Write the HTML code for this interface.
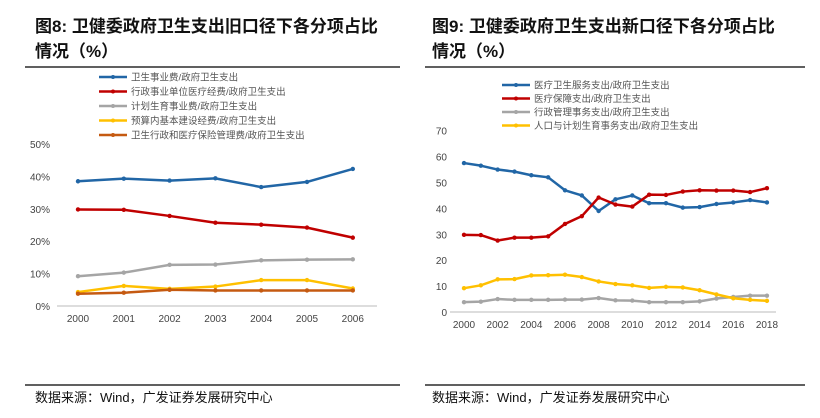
<!DOCTYPE html>
<html><head><meta charset="utf-8"><style>
body{margin:0;background:#fff;width:820px;height:413px;overflow:hidden;font-family:"Liberation Sans","Noto Sans CJK SC",sans-serif}
</style></head><body>
<svg id="s" width="820" height="413" xmlns="http://www.w3.org/2000/svg">
<g font-family="'Liberation Sans','Noto Sans CJK SC',sans-serif" font-weight="bold" font-size="17" fill="#111">
<text x="35" y="32">图8: 卫健委政府卫生支出旧口径下各分项占比</text>
<text x="35" y="57">情况（%）</text>
<text x="432" y="32">图9: 卫健委政府卫生支出新口径下各分项占比</text>
<text x="432" y="57">情况（%）</text>
</g>
<line x1="25" y1="67" x2="400" y2="67" stroke="#000" stroke-width="1.2"/>
<line x1="425" y1="67" x2="805" y2="67" stroke="#000" stroke-width="1.2"/>
<line x1="25" y1="385" x2="400" y2="385" stroke="#000" stroke-width="1.2"/>
<line x1="425" y1="385" x2="805" y2="385" stroke="#000" stroke-width="1.2"/>
<text x="35" y="402" font-size="13" fill="#111">数据来源：Wind，广发证券发展研究中心</text>
<text x="432" y="402" font-size="13" fill="#111">数据来源：Wind，广发证券发展研究中心</text>
<g id="L"></g><g id="R"></g>
</svg>
<script>
const leftYears=["2000","2001","2002","2003","2004","2005","2006"];
const leftTicks=[0,10,20,30,40,50];
const leftNames=["卫生事业费/政府卫生支出","行政事业单位医疗经费/政府卫生支出","计划生育事业费/政府卫生支出","预算内基本建设经费/政府卫生支出","卫生行政和医疗保险管理费/政府卫生支出"];
const leftBlue=[38.5,39.3,38.7,39.4,36.7,38.3,42.3];
const leftRed=[29.8,29.7,27.8,25.7,25.1,24.2,21.1];
const leftGray=[9.2,10.3,12.7,12.8,14.1,14.3,14.4];
const leftYellow=[4.3,6.2,5.3,6.0,8.0,8.0,5.4];
const leftOrange=[3.8,4.1,5.0,4.8,4.8,4.8,4.8];
const rightYears=["2000","2001","2002","2003","2004","2005","2006","2007","2008","2009","2010","2011","2012","2013","2014","2015","2016","2017","2018"];
const rightTicks=[0,10,20,30,40,50,60,70];
const rightNames=["医疗卫生服务支出/政府卫生支出","医疗保障支出/政府卫生支出","行政管理事务支出/政府卫生支出","人口与计划生育事务支出/政府卫生支出"];
const rightBlue=[57.5,56.5,55,54.2,52.8,52,47,45,39,43.5,45,42,42,40.3,40.5,41.7,42.3,43.2,42.3];
const rightRed=[29.8,29.7,27.6,28.7,28.7,29.2,34,37,44.2,41.5,40.7,45.3,45.2,46.5,47,46.9,46.9,46.3,47.8];
const rightGray=[3.8,4,5,4.7,4.7,4.7,4.8,4.8,5.4,4.5,4.4,3.8,3.8,3.8,4.1,5.2,5.8,6.3,6.3];
const rightYellow=[9.2,10.3,12.6,12.7,14.1,14.2,14.4,13.5,11.8,10.8,10.3,9.3,9.7,9.5,8.4,6.8,5.3,4.7,4.3];
const NS="http://www.w3.org/2000/svg";
function mk(p,t,a){const e=document.createElementNS(NS,t);for(const k in a)e.setAttribute(k,a[k]);p.appendChild(e);return e;}
function chart(g,cfg){
  const xs=i=>cfg.x0+i*cfg.dx, ys=v=>cfg.y0-(v-0)*cfg.py;
  const ax=mk(g,'line',{x1:cfg.ax1,x2:cfg.ax2,y1:cfg.y0,y2:cfg.y0,stroke:'#bbb','stroke-width':1});
  
  
  cfg.ticks.forEach(t=>{const e=mk(g,'text',{x:cfg.tx,y:ys(t)+4,'text-anchor':'end','font-size':10,fill:'#444'});e.textContent=t+cfg.suf;
    
    });
  cfg.years.forEach((y,i)=>{if(i%cfg.every)return;const e=mk(g,'text',{x:xs(i),y:cfg.y0+16,'text-anchor':'middle','font-size':10,fill:'#444'});e.textContent=y;
    
    });
  cfg.series.forEach((s,si)=>{
    const pts=s.v.map((v,i)=>xs(i)+','+ys(v)).join(' ');
    const pl=mk(g,'polyline',{points:pts,fill:'none',stroke:s.c,'stroke-width':2.5,'stroke-linejoin':'round'});
    
    
    s.v.forEach((v,i)=>{const m=mk(g,'circle',{cx:xs(i),cy:ys(v),r:2.2,fill:s.c});
      
      });
    const ly=cfg.ly0+si*cfg.ldy;
    const ll=mk(g,'line',{x1:cfg.lx,x2:cfg.lx+28,y1:ly,y2:ly,stroke:s.c,'stroke-width':2.5});
    
    
    mk(g,'circle',{cx:cfg.lx+14,cy:ly,r:2,fill:s.c});
    const lt=mk(g,'text',{x:cfg.lx+32,y:ly+3.5,'font-size':9.5,fill:'#555'});lt.textContent=s.n;
    
    
  });
}
chart(document.getElementById('L'),{id:'left',x0:78,dx:45.8,y0:306,py:3.24,ax1:57,ax2:377,tx:50,suf:'%',ticks:leftTicks,years:leftYears,every:1,lx:99,ly0:77,ldy:14.5,
 series:[{v:leftBlue,c:'#2166a6',n:leftNames[0]},{v:leftRed,c:'#c00000',n:leftNames[1]},{v:leftGray,c:'#a5a5a5',n:leftNames[2]},{v:leftYellow,c:'#ffc000',n:leftNames[3]},{v:leftOrange,c:'#c55a11',n:leftNames[4]}]});
chart(document.getElementById('R'),{id:'right',x0:464,dx:16.83,y0:312,py:2.59,ax1:450,ax2:776,tx:447,suf:'',ticks:rightTicks,years:rightYears,every:2,lx:502,ly0:85,ldy:13.5,
 series:[{v:rightBlue,c:'#2166a6',n:rightNames[0]},{v:rightRed,c:'#c00000',n:rightNames[1]},{v:rightGray,c:'#a5a5a5',n:rightNames[2]},{v:rightYellow,c:'#ffc000',n:rightNames[3]}]});
</script>
</body></html>
